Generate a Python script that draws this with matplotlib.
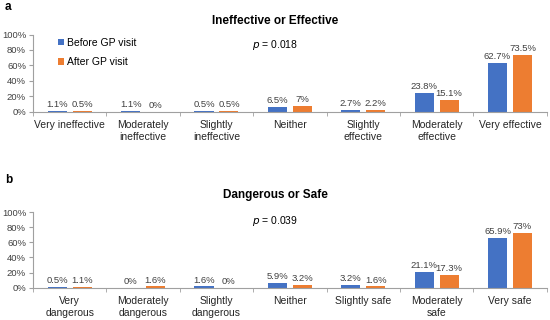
import matplotlib.pyplot as plt
import numpy as np
from matplotlib.ticker import FixedLocator, FuncFormatter

plt.rcParams['font.family'] = ['Liberation Sans', 'DejaVu Sans']

cats_a = ['Very ineffective', 'Moderately\nineffective', 'Slightly\nineffective', 'Neither',
          'Slightly\neffective', 'Moderately\neffective', 'Very effective']
before_a = [1.1, 1.1, 0.5, 6.5, 2.7, 23.8, 62.7]
after_a = [0.5, 0.0, 0.5, 7.0, 2.2, 15.1, 73.5]

cats_b = ['Very\ndangerous', 'Moderately\ndangerous', 'Slightly\ndangerous', 'Neither',
          'Slightly safe', 'Moderately\nsafe', 'Very safe']
before_b = [0.5, 0.0, 1.6, 5.9, 3.2, 21.1, 65.9]
after_b = [1.1, 1.6, 0.0, 3.2, 1.6, 17.3, 73.0]

blue = '#4472C4'
orange = '#ED7D31'


def fmt(v):
    s = ('%.1f' % v).rstrip('0').rstrip('.')
    return s + '%'


fig = plt.figure(figsize=(5.5, 3.2), dpi=100)

def panel(rect, cats, before, after, title, ptext, letter, letter_y, title_y, p_y, legend=False):
    ax = fig.add_axes(rect)
    x = np.arange(len(cats))
    w = 0.26
    off = 0.17
    ax.bar(x - off, before, w, color=blue, label='Before GP visit')
    ax.bar(x + off, after, w, color=orange, label='After GP visit')
    for xi, v in zip(x - off, before):
        ax.text(xi, v + 2.5, fmt(v), ha='center', va='bottom', fontsize=6.8, color='#404040')
    for xi, v in zip(x + off, after):
        ax.text(xi, v + 2.5, fmt(v), ha='center', va='bottom', fontsize=6.8, color='#404040')
    ax.set_xlim(-0.5, len(cats) - 0.5)
    ax.set_ylim(0, 100)
    ax.set_yticks(np.arange(0, 101, 20))
    ax.yaxis.set_major_formatter(FuncFormatter(lambda v, p: '%d%%' % v))
    ax.set_xticks(x)
    ax.set_xticklabels(cats, fontsize=7.5, color='#262626', linespacing=1.25)
    ax.tick_params(axis='x', length=0, pad=6)
    ax.xaxis.set_minor_locator(FixedLocator(np.arange(-0.5, len(cats), 1.0)))
    ax.tick_params(axis='x', which='minor', length=3, color='#a0a0a0')
    ax.tick_params(axis='y', labelsize=6.8, length=3, color='#a0a0a0', labelcolor='#404040', pad=2)
    for s in ['top', 'right']:
        ax.spines[s].set_visible(False)
    ax.spines['bottom'].set_color('#a0a0a0')
    ax.spines['left'].set_color('#a0a0a0')
    fig.text(275 / 550, title_y, title, ha='center', va='center', fontsize=8.5, fontweight='bold')
    fig.text(275 / 550, p_y, ptext, ha='center', va='center', fontsize=7.5)
    fig.text(5 / 550, letter_y, letter, ha='left', va='center', fontsize=8.5, fontweight='bold')
    if legend:
        ax.legend(loc='upper left', bbox_to_anchor=(0.03, 1.08), frameon=False, fontsize=7.5,
                  handlelength=0.6, handleheight=0.6, handletextpad=0.3, labelspacing=0.9)
    return ax


panel([0.06, 0.651, 0.934, 0.241], cats_a, before_a, after_a, 'Ineffective or Effective',
      '$p$ = 0.018', 'a', 1 - 7 / 320, 1 - 21 / 320, 1 - 45 / 320, legend=True)
panel([0.06, 0.101, 0.934, 0.236], cats_b, before_b, after_b, 'Dangerous or Safe',
      '$p$ = 0.039', 'b', 1 - 180 / 320, 1 - 195 / 320, 1 - 221 / 320)

fig.savefig('out.png', dpi=100)
